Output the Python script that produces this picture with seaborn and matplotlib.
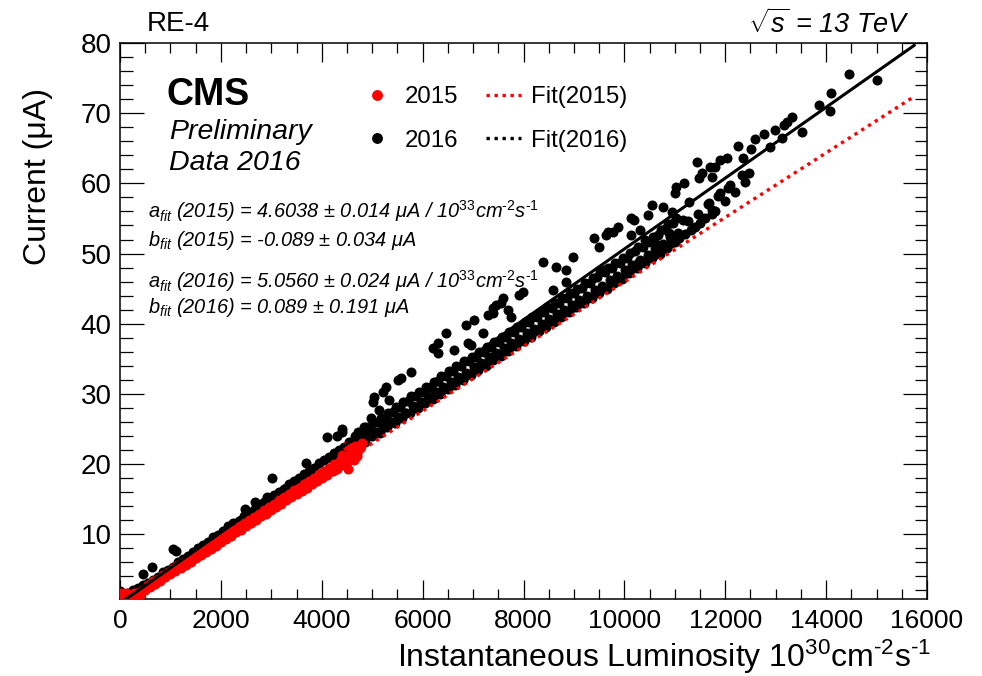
import numpy as np
import pandas as pd
import matplotlib
matplotlib.use("Agg")
import matplotlib.pyplot as plt
import seaborn as sns
from matplotlib.lines import Line2D
from matplotlib.ticker import MultipleLocator

# ---------------- data ----------------
# 2016 (black) : instantaneous luminosity [1e30 cm-2 s-1] and current [uA]
lumi_2016 = [
    # dense low-lumi band
    30, 80, 150, 250, 350, 450, 550, 650, 750, 850,
    950, 1050, 1150, 1250, 1350, 1450, 1550, 1650, 1750, 1850,
    1950, 2050, 2150, 2250, 2350, 2450, 2550, 2650, 2750, 2850,
    2950, 3050, 3150, 3250, 3350, 3450, 3550, 3650, 3750, 3850,
    3950, 4050, 4150, 4250, 4350, 4450, 4550, 4650,
    3800, 4200, 4450, 4600, 2400, 3300,
    # low-lumi outliers
    0, 20, 455, 635, 1060, 1110, 2480, 2680, 2920, 3020,
    3690, 4110, 4400, 4300,
    # mid-lumi upper outliers
    4410, 4830, 4970, 5130, 5010, 5330, 5030, 5210, 5270, 5510,
    5570, 5765, 6300, 6620, 6200, 6960, 6300, 6460, 7200, 6860,
    7020, 7400, 7560, 6900, 7300, 7750, 7690, 7400, 7450, 7590,
    7910, 7990, 8580, 8840, 8840, 8640, 8380, 8980, 9500, 9400,
    10130, 9640, 9780,
    # main band 4.7k - 11k
    4700, 4760, 4660, 4775, 4720,
    4850, 4910, 4810, 4925, 4870,
    5000, 5060, 4960, 5075, 5020,
    5150, 5210, 5110, 5225, 5170,
    5300, 5360, 5260, 5375, 5320,
    5450, 5510, 5410, 5525, 5470,
    5600, 5660, 5560, 5675, 5620,
    5750, 5810, 5710, 5825, 5770,
    5900, 5960, 5860, 5975, 5920,
    6050, 6110, 6010, 6125, 6070,
    6200, 6260, 6160, 6275, 6220,
    6350, 6410, 6310, 6425, 6370,
    6500, 6560, 6460, 6575, 6520,
    6650, 6710, 6610, 6725, 6670,
    6800, 6860, 6760, 6875, 6820,
    6950, 7010, 6910, 7025, 6970,
    7100, 7160, 7060, 7175, 7120,
    7250, 7310, 7210, 7325, 7270,
    7400, 7460, 7360, 7475, 7420,
    7550, 7610, 7510, 7625, 7570,
    7700, 7760, 7660, 7775, 7720,
    7850, 7910, 7810, 7925, 7870,
    8000, 8060, 7960, 8075, 8020,
    8150, 8210, 8110, 8225, 8170,
    8300, 8360, 8260, 8375, 8320,
    8450, 8510, 8410, 8525, 8470,
    8600, 8660, 8560, 8675, 8620,
    8750, 8810, 8710, 8825, 8770,
    8900, 8960, 8860, 8975, 8920,
    9050, 9110, 9010, 9125, 9070,
    9200, 9260, 9160, 9275, 9220,
    9350, 9410, 9310, 9425, 9370,
    9500, 9560, 9460, 9575, 9520,
    9650, 9710, 9610, 9725, 9670,
    9800, 9860, 9760, 9875, 9820,
    9950, 10010, 9910, 10025, 9970,
    10100, 10160, 10060, 10175, 10120,
    10250, 10310, 10210, 10325, 10270,
    10400, 10460, 10360, 10475, 10420,
    10550, 10610, 10510, 10625, 10570,
    10700, 10760, 10660, 10775, 10720,
    10850, 10910, 10810, 10925, 10870,
    11000, 11060, 10960, 11075, 11020,
    11200, 11260,
    11400, 11460,
    11600, 11660,
    11800, 11860,
    12000, 12060,
    12200,
    12400,
    # high-lumi scatter
    14453, 15000, 14095, 13857, 14075, 13320, 13220, 13160, 13520, 12980,
    13120, 12760, 12585, 12520, 12260, 12360, 12880, 12465, 12325, 12030,
    11890, 11790, 11690, 11530, 11430, 11470, 11730, 12090, 11890, 11190,
    11030, 10995, 11290, 11670, 11730, 11490, 11330, 11170, 10935, 10775,
    10540, 10475, 10200, 10140, 9880, 9680, 10300, 10875, 11075, 10600,
    10400, 10710, 10270, 9580, 11740,
]
current_2016 = [
    1.0, 1.4, 1.6, 2.0, 2.2, 2.7, 3.0, 3.4, 3.9, 4.5,
    4.9, 5.3, 6.0, 6.4, 6.8, 7.4, 8.0, 8.4, 8.8, 9.5,
    9.9, 10.4, 11.1, 11.5, 11.9, 12.6, 13.0, 13.4, 14.1, 14.5,
    14.9, 15.6, 16.0, 16.4, 17.1, 17.5, 17.9, 18.6, 19.0, 19.4,
    20.1, 20.5, 20.9, 21.6, 22.0, 22.4, 23.1, 23.5,
    18.7, 20.8, 22.0, 22.6, 12.0, 16.6,
    1.9, 1.5, 4.3, 5.2, 7.9, 7.5, 13.6, 14.5, 15.2, 18.0,
    20.1, 23.8, 24.5, 24.0,
    25.0, 25.2, 26.5, 27.6, 28.8, 29.1, 29.5, 30.2, 30.9, 31.9,
    32.2, 33.1, 35.8, 36.2, 36.5, 36.9, 37.3, 38.6, 38.6, 39.8,
    40.5, 41.5, 42.9, 37.2, 41.2, 40.9, 41.9, 42.2, 42.6, 43.6,
    44.1, 44.5, 44.8, 46.0, 47.7, 48.1, 48.8, 49.5, 50.9, 52.2,
    52.6, 52.6, 53.1,
    22.6, 23.4, 23.9, 23.4, 24.6,
    23.1, 24.0, 24.5, 23.9, 25.2,
    23.9, 24.5, 25.2, 24.6, 25.9,
    24.4, 25.3, 25.9, 25.2, 26.6,
    25.3, 25.9, 26.6, 26.0, 27.3,
    25.8, 26.7, 27.4, 26.6, 28.1,
    26.6, 27.3, 28.1, 27.3, 28.8,
    27.2, 28.2, 28.9, 28.0, 29.6,
    28.0, 28.8, 29.6, 28.7, 30.3,
    28.6, 29.6, 30.3, 29.4, 31.0,
    29.3, 30.2, 31.0, 30.0, 31.7,
    29.9, 31.0, 31.8, 30.7, 32.5,
    30.7, 31.6, 32.5, 31.4, 33.2,
    31.3, 32.4, 33.2, 32.1, 33.9,
    32.0, 33.0, 33.9, 32.7, 34.6,
    32.7, 33.8, 34.6, 33.4, 35.3,
    33.4, 34.4, 35.3, 34.1, 36.0,
    34.0, 35.2, 36.0, 34.8, 36.7,
    34.8, 35.8, 36.7, 35.5, 37.4,
    35.4, 36.5, 37.4, 36.2, 38.1,
    36.1, 37.2, 38.1, 36.8, 38.8,
    36.8, 37.8, 38.8, 37.5, 39.5,
    37.5, 38.6, 39.5, 38.2, 40.2,
    38.1, 39.2, 40.2, 38.9, 40.9,
    38.9, 39.9, 40.9, 39.6, 41.6,
    39.5, 40.6, 41.6, 40.3, 42.3,
    40.2, 41.3, 42.2, 40.9, 42.9,
    40.9, 42.0, 43.0, 41.6, 43.7,
    41.6, 42.6, 43.7, 42.3, 44.4,
    42.3, 43.4, 44.3, 43.0, 45.0,
    43.0, 44.0, 45.1, 43.7, 45.8,
    43.7, 44.8, 45.8, 44.4, 46.5,
    44.4, 45.4, 46.6, 45.1, 47.3,
    45.0, 46.2, 47.3, 45.8, 48.0,
    45.8, 46.8, 48.0, 46.5, 48.7,
    46.4, 47.6, 48.7, 47.2, 49.4,
    47.2, 48.3, 49.4, 47.9, 50.1,
    47.9, 49.1, 50.3, 48.6, 51.0,
    48.6, 49.8, 51.0, 49.3, 51.7,
    49.3, 50.6, 51.7, 50.0, 52.4,
    50.0, 51.4, 52.6, 50.7, 53.3,
    50.8, 52.3, 53.5, 51.5, 54.2,
    51.6, 53.0, 54.3, 52.3, 55.0,
    52.8, 54.6,
    53.8, 55.6,
    55.0, 57.0,
    56.0, 58.2,
    57.5, 59.4,
    58.8,
    60.2,
    75.6, 74.8, 72.9, 71.2, 70.3, 69.5, 68.7, 68.3, 67.3, 67.6,
    66.5, 67.0, 66.3, 64.9, 65.3, 63.7, 65.2, 61.5, 61.2, 63.6,
    63.3, 62.3, 62.3, 61.5, 63.0, 60.8, 60.9, 59.8, 58.6, 60.0,
    59.5, 58.6, 57.3, 57.2, 55.7, 54.3, 53.3, 54.8, 55.9, 56.6,
    56.9, 55.5, 54.8, 55.0, 53.8, 53.1, 53.3, 52.9, 52.2, 51.5,
    51.9, 50.9, 48.6, 47.6, 56.2,
]

# 2015 (red)
lumi_2015 = [
    0, 40, 60, 100, 120, 150, 180, 200, 250, 280,
    300, 350, 380, 400, 450, 20, 320,
    500, 550, 600, 650, 700, 750, 800, 850, 900, 950,
    1000, 1050, 1100, 1150, 1200, 1250, 1300, 1350, 1400, 1450,
    1500, 1550, 1600, 1650, 1700, 1750, 1800, 1850, 1900, 1950,
    2000, 2050, 2100, 2150, 2200, 2250, 2300, 2350, 2400, 2450,
    2500, 2550, 2600, 2650, 2700, 2750, 2800, 2850, 2900, 2950,
    3000, 3050, 3100, 3150, 3200, 3250, 3300, 3350, 3400, 3450,
    3500, 3550, 3600, 3650, 3700, 3750, 3800, 3850, 3900, 3950,
    4000, 4050, 4100, 4150, 4200, 4250, 4300, 4350, 4400, 4450,
    4500, 4550, 4600, 4650, 4700, 4750,
    4500, 4630, 4530, 4330, 4700, 4230, 4800, 4750, 4650, 4400, 4580,
]
current_2015 = [
    0.8, 1.2, 0.7, 1.0, 1.6, 0.8, 1.3, 0.9, 0.8, 1.5,
    1.1, 0.8, 1.7, 1.3, 2.0, 1.5, 0.7,
    2.0, 2.7, 2.4, 3.2, 2.9, 3.6, 3.3, 4.1, 3.8, 4.6,
    4.2, 5.1, 4.7, 5.5, 5.1, 6.0, 5.6, 6.4, 6.0, 6.9,
    6.5, 7.4, 7.0, 7.8, 7.4, 8.3, 7.9, 8.8, 8.3, 9.2,
    8.8, 9.7, 9.3, 10.1, 9.7, 10.6, 10.2, 11.1, 10.6, 11.5,
    11.1, 12.0, 11.5, 12.4, 12.0, 12.9, 12.5, 13.4, 12.9, 13.8,
    13.4, 14.3, 13.8, 14.8, 14.3, 15.2, 14.8, 15.7, 15.2, 16.2,
    15.7, 16.6, 16.1, 17.1, 16.6, 17.6, 17.1, 18.0, 17.5, 18.5,
    18.0, 18.9, 18.4, 19.4, 18.9, 19.9, 19.3, 20.3, 19.8, 20.8,
    20.2, 21.3, 20.7, 21.8, 21.1, 22.3,
    22.6, 20.5, 19.3, 19.8, 21.6, 19.0, 22.9, 22.2, 22.5, 21.3, 21.9,
]

# linear fit parameters (slope per 1e33 cm-2 s-1, offset in uA)
fit_years = ["2015", "2016"]
fit_slope = [4.6038, 5.0560]
fit_offset = [-0.089, 0.089]
fit_lumi_range = [0, 15750]

fit_texts = [
    r"$a_{fit}$ (2015) = 4.6038 $\pm$ 0.014 μA / 10$^{33}$cm$^{\text{-}2}$s$^{\text{-}1}$",
    r"$b_{fit}$ (2015) = -0.089 $\pm$ 0.034 μA",
    r"$a_{fit}$ (2016) = 5.0560 $\pm$ 0.024 μA / 10$^{33}$cm$^{\text{-}2}$s$^{\text{-}1}$",
    r"$b_{fit}$ (2016) = 0.089 $\pm$ 0.191 μA",
]

# ---------------- style ----------------
sns.set_theme(style="ticks")
plt.rcParams["font.family"] = ["Liberation Sans", "DejaVu Sans"]
plt.rcParams["mathtext.fontset"] = "custom"
plt.rcParams["mathtext.rm"] = "Liberation Sans"
plt.rcParams["mathtext.it"] = "Liberation Sans:italic"
plt.rcParams["mathtext.bf"] = "Liberation Sans:bold"
plt.rcParams["mathtext.sf"] = "Liberation Sans"
plt.rcParams["axes.linewidth"] = 1.1
for key in ["text.color", "axes.labelcolor", "xtick.color", "ytick.color",
            "xtick.labelcolor", "ytick.labelcolor", "axes.edgecolor"]:
    plt.rcParams[key] = "black"

W, H = 982, 676
fig = plt.figure(figsize=(W / 100, H / 100), dpi=100)
fig.patch.set_facecolor("white")
ax = fig.add_axes([120 / W, 1 - 599 / H, 807 / W, 555.7 / H])
ax.set_facecolor("white")

df16 = pd.DataFrame({"lumi": lumi_2016, "current": current_2016})
df15 = pd.DataFrame({"lumi": lumi_2015, "current": current_2015})

sns.scatterplot(data=df16, x="lumi", y="current", color="black", s=52,
                linewidth=0, ax=ax, zorder=2, legend=False)
sns.scatterplot(data=df15, x="lumi", y="current", color="#ff0000", s=52,
                linewidth=0, ax=ax, zorder=3, legend=False)

# fit lines
rows = []
for yr, a, b in zip(fit_years, fit_slope, fit_offset):
    for lx in fit_lumi_range:
        rows.append({"year": yr, "lumi": lx, "current": a * lx / 1000.0 + b})
fitdf = pd.DataFrame(rows)
dot = (0, (1.0, 1.4))
sns.lineplot(data=fitdf[fitdf.year == "2015"], x="lumi", y="current",
             color="#ff0000", lw=2.4, linestyle=dot, dash_capstyle="butt",
             ax=ax, zorder=4, legend=False)
sns.lineplot(data=fitdf[fitdf.year == "2016"], x="lumi", y="current",
             color="black", lw=2.2, ax=ax, zorder=5, legend=False)

# axes
ax.set_xlim(0, 16000)
ax.set_ylim(0.7, 80)
ax.xaxis.set_major_locator(MultipleLocator(2000))
ax.xaxis.set_minor_locator(MultipleLocator(500))
ax.yaxis.set_major_locator(MultipleLocator(10))
ax.yaxis.set_minor_locator(MultipleLocator(2))
ax.tick_params(which="both", direction="in", top=True, right=True,
               color="black", width=0.9)
ax.tick_params(axis="y", which="major", length=17, labelsize=20, pad=6)
ax.tick_params(axis="y", which="minor", length=9)
ax.tick_params(axis="x", which="major", length=13.5, labelsize=19, pad=7)
ax.tick_params(axis="x", which="minor", length=7)
for sp in ax.spines.values():
    sp.set_color("black")

ax.set_xlabel(r"Instantaneous Luminosity 10$^{30}$cm$^{\text{-}2}$s$^{\text{-}1}$",
              fontsize=23, loc="right")
ax.xaxis.label.set_va("baseline")
ax.xaxis.set_label_coords((931 - 120) / 807, -(667 - 599) / 555.7)
ax.set_ylabel("Current (μA)", fontsize=23, loc="top")
ax.yaxis.label.set_va("center")
ax.yaxis.set_label_coords(-(120 - 38) / 807, (599 - 88) / 555.7)

# texts
fig.text(147 / W, 1 - 24 / H, "RE-4", fontsize=20, ha="left", va="center")
fig.text(910 / W, 1 - 24 / H, r"$\sqrt{s}$ = 13 TeV", fontsize=19.5,
         style="italic", ha="right", va="center")
fig.text(167 / W, 1 - 95 / H, "CMS", fontsize=27, weight="bold",
         ha="left", va="center")
fig.text(169 / W, 1 - 132 / H, "Preliminary", fontsize=20.5, style="italic",
         ha="left", va="center")
fig.text(169 / W, 1 - 163 / H, "Data 2016", fontsize=20.5, style="italic",
         ha="left", va="center")
for txt, yc in zip(fit_texts, [211, 241, 281, 307]):
    fig.text(148 / W, 1 - yc / H, txt, fontsize=14.4, style="italic",
             ha="left", va="center")

# legend
handles = [
    Line2D([], [], marker="o", color="#ff0000", ls="none", markersize=6.8),
    Line2D([], [], marker="o", color="black", ls="none", markersize=6.8),
    Line2D([], [], color="#ff0000", lw=2.4, ls=dot, dash_capstyle="butt"),
    Line2D([], [], color="black", lw=2.4, ls=dot, dash_capstyle="butt"),
]
ax.legend(handles, ["2015", "2016", "Fit(2015)", "Fit(2016)"], ncol=2,
          loc="upper left", bbox_to_anchor=(360 / W, 1 - 86 / H),
          bbox_transform=fig.transFigure, frameon=False, fontsize=17.3,
          handlelength=1.45, handletextpad=0.42, columnspacing=1.15,
          labelspacing=0.9, borderpad=0, borderaxespad=0)

fig.savefig("out.png", dpi=100, facecolor="white")
